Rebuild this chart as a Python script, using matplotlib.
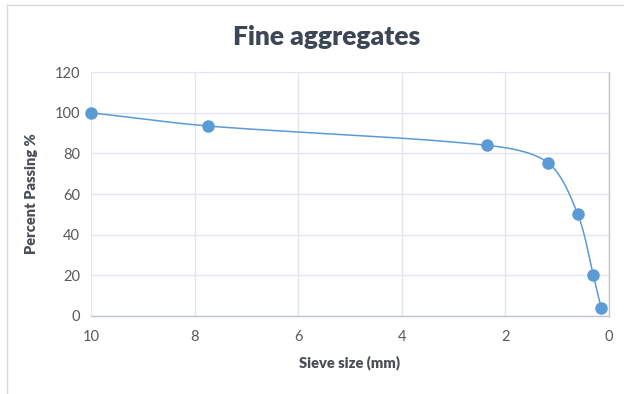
import numpy as np
import matplotlib
matplotlib.use("Agg")
import matplotlib.pyplot as plt
from matplotlib.lines import Line2D

# sieve analysis, fine aggregates
sieve_mm = [10, 7.75, 2.36, 1.18, 0.6, 0.3, 0.15]
passing = [100, 93.5, 84, 75.5, 50, 20, 4]

x_ticks = [10, 8, 6, 4, 2, 0]
y_ticks = [0, 20, 40, 60, 80, 100, 120]

BLUE = "#5b9bd5"
TEXT = "#595959"
GRID = "#e3e6ec"

plt.rcParams['font.family'] = ['Lato', 'DejaVu Sans']


def smooth_curve(xs, ys, sx, sy, k=0.3, n=40):
    # smoothed line: cubic bezier through each point, tangent along the
    # neighbour chord, handle length scaled by the segment length
    px = np.array(xs, float) * sx
    py = np.array(ys, float) * sy
    pts = np.column_stack([px, py])
    out = []
    t = np.linspace(0, 1, n)[:, None]
    for i in range(len(pts) - 1):
        p0 = pts[max(i - 1, 0)]
        p1 = pts[i]
        p2 = pts[i + 1]
        p3 = pts[min(i + 2, len(pts) - 1)]
        seg_len = np.linalg.norm(p2 - p1)
        d1 = (p2 - p0) / np.linalg.norm(p2 - p0)
        d2 = (p3 - p1) / np.linalg.norm(p3 - p1)
        c1 = p1 + d1 * seg_len * k
        c2 = p2 - d2 * seg_len * k
        seg = ((1 - t) ** 3) * p1 + 3 * ((1 - t) ** 2) * t * c1 + 3 * (1 - t) * t ** 2 * c2 + t ** 3 * p2
        out.append(seg)
    curve = np.vstack(out)
    return curve[:, 0] / sx, curve[:, 1] / sy


fig = plt.figure(figsize=(6.24, 3.94), dpi=100)
ax = fig.add_axes([0.1458, 0.198, 0.830, 0.619])

cx, cy = smooth_curve(sieve_mm, passing, 518 / 10, 244 / 120)
ax.plot(cx, cy, color=BLUE, lw=1.1, zorder=3)
ax.plot(sieve_mm, passing, 'o', color=BLUE, markersize=8, zorder=4, clip_on=False)

ax.set_xlim(10, 0)
ax.set_ylim(0, 120)
ax.set_xticks(x_ticks)
ax.set_yticks(y_ticks)
ax.grid(True, color=GRID, lw=1)
ax.set_axisbelow(True)
ax.tick_params(length=0, labelsize=10.5, colors=TEXT, pad=8)
ax.tick_params(axis='x', pad=10)

for s in ['top', 'left']:
    ax.spines[s].set_visible(False)
for s in ['bottom', 'right']:
    ax.spines[s].set_color("#bfc5cf")
    ax.spines[s].set_linewidth(1)

ax.set_xlabel("Sieve size (mm)", fontsize=10.5, fontweight='heavy', color="#4a4f57", labelpad=8)
ax.set_ylabel("Percent Passing %", fontsize=10.5, fontweight='heavy', color="#4a4f57", labelpad=12)
fig.text(0.523, 0.905, "Fine aggregates", ha='center', va='center',
         fontsize=19, fontweight='heavy', color="#3c4654")

# thin frame around the chart area
fig.add_artist(Line2D([0.012, 0.012], [0.0, 0.987], color="#d9d9d9", lw=1, transform=fig.transFigure))
fig.add_artist(Line2D([0.012, 1.0], [0.987, 0.987], color="#d9d9d9", lw=1, transform=fig.transFigure))

fig.savefig("out.png", dpi=100)
